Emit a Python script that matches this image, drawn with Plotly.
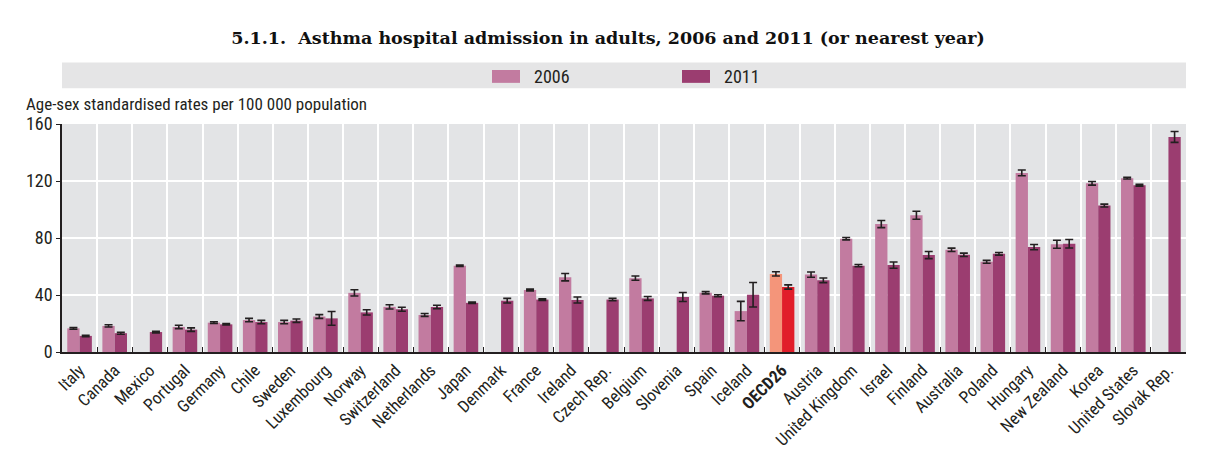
import plotly.graph_objects as go

countries = ["Italy", "Canada", "Mexico", "Portugal", "Germany", "Chile", "Sweden", "Luxembourg",
             "Norway", "Switzerland", "Netherlands", "Japan", "Denmark", "France", "Ireland",
             "Czech Rep.", "Belgium", "Slovenia", "Spain", "Iceland", "OECD26", "Austria",
             "United Kingdom", "Israel", "Finland", "Australia", "Poland", "Hungary",
             "New Zealand", "Korea", "United States", "Slovak Rep."]

rate_2006 = [16.6, 18.3, None, 17.6, 20.6, 22.4, 21.0, 24.9, 41.5, 31.7, 26.0, 60.5, None, 43.5,
             52.5, None, 51.8, None, 41.6, 28.7, 54.8, 54.3, 79.5, 89.8, 96.0, 71.7, 63.3, 125.7,
             75.6, 118.4, 122.0, None]
rate_2011 = [11.3, 13.2, 14.0, 15.7, 19.4, 21.0, 22.0, 23.6, 27.8, 30.0, 31.6, 34.5, 36.0, 36.8,
             36.5, 36.8, 37.6, 38.6, 39.5, 40.2, 45.6, 50.3, 60.6, 61.0, 68.0, 68.2, 68.9, 73.6,
             76.0, 102.8, 117.0, 150.9]
err_2006 = [0.6, 0.8, 0, 1.2, 0.6, 1.2, 1.2, 1.3, 2.2, 1.5, 1.0, 0.5, 0, 0.6, 2.6, 0, 1.5, 0, 0.8,
            6.8, 1.5, 1.8, 0.8, 2.5, 2.8, 1.2, 1.0, 2.0, 2.8, 1.3, 0.6, 0]
err_2011 = [0.5, 0.7, 0.6, 1.2, 0.5, 1.2, 1.2, 4.8, 1.8, 1.4, 1.2, 0.5, 1.6, 0.6, 2.1, 0.8, 1.4,
            3.2, 0.7, 8.6, 1.5, 1.6, 0.8, 2.2, 2.5, 1.2, 0.9, 1.8, 3.0, 1.0, 0.6, 3.8]
series_names = ["2006", "2011"]
highlight = "OECD26"
tick_labels = ["<b>%s</b>" % c if c == highlight else c for c in countries]

c2006, c2011 = "#C27BA0", "#9B3D70"
h2006, h2011 = "#F4957A", "#E11E2A"
col06 = [h2006 if c == highlight else c2006 for c in countries]
col11 = [h2011 if c == highlight else c2011 for c in countries]

font_narrow = "Liberation Sans Narrow, Arial Narrow, Roboto Condensed, Liberation Sans, sans-serif"
err_style = dict(type="data", thickness=1.6, width=4, color="#231F20")

fig = go.Figure()
fig.add_trace(go.Bar(name=series_names[0], x=countries, y=rate_2006,
                     marker=dict(color=col06, line_width=0),
                     error_y=dict(array=err_2006, **err_style)))
fig.add_trace(go.Bar(name=series_names[1], x=countries, y=rate_2011,
                     marker=dict(color=col11, line_width=0),
                     error_y=dict(array=err_2011, **err_style)))

W, H = 1216, 462
L, R, T, B = 62, 30, 124, 108
ph = H - T - B
pw = W - L - R

def py(pix):
    return 1 + (T - pix) / ph

def px(pix):
    return (pix - L) / pw

shapes = [dict(type="rect", xref="paper", yref="paper", x0=0, x1=1, y0=py(88), y1=py(62),
               fillcolor="#E5E5E6", line_width=0, layer="below")]
annotations = [dict(text="Age-sex standardised rates per 100 000 population", xref="paper", yref="paper",
                    x=px(24), y=py(104), xanchor="left", yanchor="middle", showarrow=False,
                    font=dict(size=17, color="#231F20"))]
# legend swatches + labels inside the grey band
for name, col, sx in zip(series_names, [c2006, c2011], [492, 682]):
    shapes.append(dict(type="rect", xref="paper", yref="paper", x0=px(sx), x1=px(sx + 28),
                       y0=py(82.5), y1=py(69.5), fillcolor=col, line_width=0))
    annotations.append(dict(text=name, xref="paper", yref="paper", x=px(sx + 40), y=py(76),
                            xanchor="left", yanchor="middle", showarrow=False,
                            font=dict(size=18, color="#231F20")))

fig.update_layout(
    width=W, height=H,
    margin=dict(l=L, r=R, t=T, b=B),
    paper_bgcolor="white", plot_bgcolor="#E3E4E6",
    barmode="group", bargap=0.3, bargroupgap=0,
    font=dict(family=font_narrow, size=17, color="#231F20"),
    title=dict(text="<b>5.1.1.  Asthma hospital admission in adults, 2006 and 2011 (or nearest year)</b>",
               x=0.5, xref="container", xanchor="center", y=1 - 38 / H, yanchor="middle",
               font=dict(family="DejaVu Serif, Liberation Serif, serif", size=17.5, color="#111")),
    showlegend=False,
    shapes=shapes,
    annotations=annotations,
)
fig.update_xaxes(type="category", tickmode="array", tickvals=countries, ticktext=tick_labels,
                 tickangle=-45, tickson="boundaries", ticks="inside", ticklen=5, tickcolor="#231F20",
                 showgrid=True, gridcolor="white", gridwidth=2, showline=True, linecolor="#231F20",
                 linewidth=1.5, tickfont=dict(size=17))
fig.update_yaxes(range=[0, 160], tickvals=[0, 40, 80, 120, 160], showgrid=True, gridcolor="white",
                 gridwidth=2, zeroline=False, showline=True, linecolor="#231F20", linewidth=1.5,
                 ticks="outside", ticklen=4, tickcolor="#231F20", tickfont=dict(size=18))

fig.write_html("out.html")
